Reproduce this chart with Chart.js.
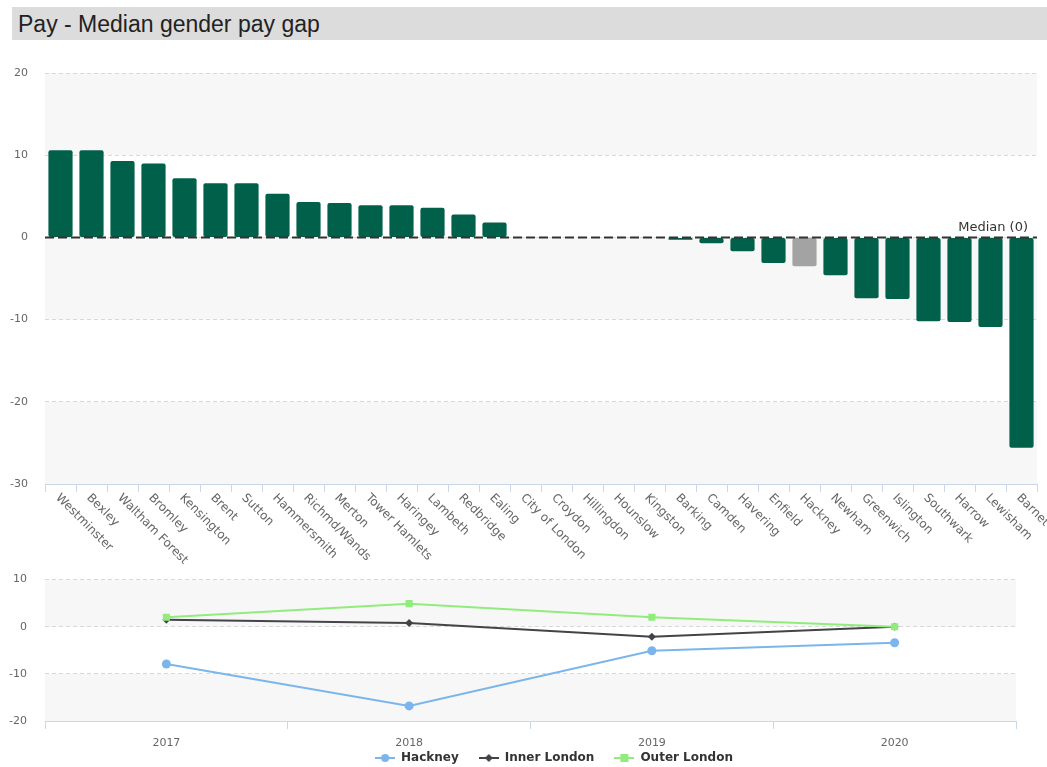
<!DOCTYPE html>
<html>
<head>
<meta charset="utf-8">
<title>Pay - Median gender pay gap</title>
<script src="https://cdn.jsdelivr.net/npm/chart.js@4.4.1/dist/chart.umd.min.js"></script>
<style>
  body { margin: 0; background: #fff; width: 1047px; height: 767px; position: relative; overflow: hidden; }
  #title {
    position: absolute; left: 12px; top: 7px; width: 1035px; height: 33px;
    background: #dcdcdc; color: #222; box-sizing: border-box; padding-left: 6px;
    font: 23px "Liberation Sans", Arial, sans-serif; line-height: 34px;
  }
  #gap-chart { position: absolute; left: 0; top: 45px; }
  #trend-chart { position: absolute; left: 0; top: 555px; }
</style>
</head>
<body>
<div id="title">Pay - Median gender pay gap</div>
<canvas id="gap-chart" width="1047" height="530"></canvas>
<canvas id="trend-chart" width="1047" height="234"></canvas>
<script>
// borough ranking, median gender pay gap (%)
const boroughs = ['Westminster', 'Bexley', 'Waltham Forest', 'Bromley', 'Kensington', 'Brent', 'Sutton',
  'Hammersmith', 'Richmd/Wands', 'Merton', 'Tower Hamlets', 'Haringey', 'Lambeth', 'Redbridge', 'Ealing',
  'City of London', 'Croydon', 'Hillingdon', 'Hounslow', 'Kingston', 'Barking', 'Camden', 'Havering',
  'Enfield', 'Hackney', 'Newham', 'Greenwich', 'Islington', 'Southwark', 'Harrow', 'Lewisham', 'Barnet'];
const payGap = [10.6, 10.6, 9.3, 9.0, 7.2, 6.6, 6.6, 5.3, 4.3, 4.2, 3.9, 3.9, 3.6, 2.8, 1.8,
  0, 0, 0, 0, 0, -0.3, -0.7, -1.7, -3.1, -3.5, -4.6, -7.4, -7.5, -10.2, -10.3, -10.9, -25.6];
const highlight = 'Hackney';
const medianValue = 0;
const gapTicks = [20, 10, 0, -10, -20, -30];

// trend over time
const years = ['2017', '2018', '2019', '2020'];
const hackneyGap = [-7.9, -16.8, -5.1, -3.4];
const innerLondon = [1.5, 0.8, -2.1, 0];
const outerLondon = [2.0, 4.9, 2.0, 0];
const trendTicks = [10, 0, -10, -20];

Chart.defaults.font.family = '"DejaVu Sans", sans-serif';
Chart.defaults.font.size = 11;
Chart.defaults.color = '#666';

// alternating grey bands, starting grey at the top of the plot
const bands = {
  id: 'bands',
  beforeDraw(chart) {
    const { ctx, chartArea, scales: { y } } = chart;
    const step = y.options.ticks.stepSize;
    ctx.save();
    ctx.fillStyle = '#f7f7f7';
    let k = 0;
    for (let v = y.max; v > y.min; v -= step, k++) {
      if (k % 2) continue;
      const top = y.getPixelForValue(v);
      const bottom = y.getPixelForValue(v - step);
      ctx.fillRect(chartArea.left, top, chartArea.right - chartArea.left, bottom - top);
    }
    ctx.restore();
  }
};

const medianLine = {
  id: 'medianLine',
  afterDatasetsDraw(chart) {
    const { ctx, chartArea, scales: { y } } = chart;
    const py = y.getPixelForValue(medianValue);
    ctx.save();
    ctx.strokeStyle = '#333';
    ctx.lineWidth = 2;
    ctx.setLineDash([9, 4]);
    ctx.beginPath();
    ctx.moveTo(chartArea.left, py);
    ctx.lineTo(chartArea.right, py);
    ctx.stroke();
    ctx.setLineDash([]);
    ctx.fillStyle = '#333';
    ctx.font = '13px "DejaVu Sans"';
    ctx.textAlign = 'right';
    ctx.textBaseline = 'bottom';
    ctx.fillText('Median (' + medianValue + ')', chartArea.right - 9, py - 3);
    ctx.restore();
  }
};

// category labels slanting down to the right
const slantLabels = {
  id: 'slantLabels',
  afterDraw(chart) {
    const { ctx, scales: { x } } = chart;
    ctx.save();
    ctx.fillStyle = '#666';
    ctx.font = '12px "DejaVu Sans"';
    ctx.textAlign = 'left';
    ctx.textBaseline = 'middle';
    boroughs.forEach((name, i) => {
      const px = x.getPixelForValue(i);
      ctx.save();
      ctx.translate(px - 3, x.top + 12);
      ctx.rotate(Math.PI / 4);
      ctx.fillText(name, 0, 0);
      ctx.restore();
    });
    ctx.restore();
  }
};

new Chart(document.getElementById('gap-chart'), {
  type: 'bar',
  data: {
    labels: boroughs,
    datasets: [{
      label: 'Median gender pay gap',
      data: payGap,
      backgroundColor: boroughs.map(b => b === highlight ? '#a3a3a3' : '#00604a'),
      borderRadius: 2,
      borderSkipped: false,
      barPercentage: 0.78,
      categoryPercentage: 1
    }]
  },
  options: {
    responsive: false,
    animation: false,
    layout: { padding: { top: 28, right: 10, left: 0, bottom: 0 } },
    plugins: { legend: { display: false }, tooltip: { enabled: false } },
    scales: {
      x: {
        ticks: { display: false },
        grid: { drawOnChartArea: false, drawTicks: true, tickLength: 8, color: '#ccd6eb', offset: true },
        border: { color: '#ccd6eb' },
        afterFit: s => { s.height = 91; }
      },
      y: {
        min: -30, max: 20,
        ticks: { stepSize: 10, padding: 17, color: '#666' },
        grid: { color: '#d8d8d8', drawTicks: false },
        border: { display: false, dash: [4, 3] },
        afterBuildTicks: s => { s.ticks = gapTicks.map(v => ({ value: v })); },
        afterFit: s => { s.width = 45; }
      }
    }
  },
  plugins: [bands, medianLine, slantLabels]
});

function legendIcon(color, style) {
  const c = document.createElement('canvas');
  c.width = 20; c.height = 12;
  const g = c.getContext('2d');
  g.strokeStyle = color; g.fillStyle = color; g.lineWidth = 2;
  g.beginPath(); g.moveTo(0, 6); g.lineTo(20, 6); g.stroke();
  g.beginPath();
  if (style === 'circle') g.arc(10, 6, 4, 0, Math.PI * 2);
  else if (style === 'rect') g.rect(6, 2, 8, 8);
  else { g.moveTo(10, 2); g.lineTo(14, 6); g.lineTo(10, 10); g.lineTo(6, 6); g.closePath(); }
  g.fill();
  return c;
}

const series = [
  { label: 'Hackney', data: hackneyGap, color: '#7cb5ec', style: 'circle', radius: 4.5, order: 2 },
  { label: 'Inner London', data: innerLondon, color: '#434348', style: 'rectRot', radius: 4, order: 1 },
  { label: 'Outer London', data: outerLondon, color: '#90ed7d', style: 'rect', radius: 5, order: 0 }
];

// nudge the legend row: centred under the plot and tucked just below the year labels
const legendShift = {
  id: 'legendShift',
  afterLayout(chart) {
    const lg = chart.legend;
    lg.left += 46; lg.right += 46;
    lg.top -= 15; lg.bottom -= 15;
  }
};

new Chart(document.getElementById('trend-chart'), {
  type: 'line',
  data: {
    labels: years,
    datasets: series.map(s => ({
      label: s.label,
      data: s.data,
      order: s.order,
      borderColor: s.color,
      backgroundColor: s.color,
      borderWidth: 2,
      pointStyle: s.style,
      pointRadius: s.radius,
      pointBorderWidth: 0,
      tension: 0
    }))
  },
  options: {
    responsive: false,
    animation: false,
    layout: { padding: { top: 9, right: 31, left: 0, bottom: 0 } },
    plugins: {
      tooltip: { enabled: false },
      legend: {
        position: 'bottom',
        labels: {
          usePointStyle: true,
          pointStyleWidth: 20,
          padding: 20,
          color: '#333',
          font: { size: 12, weight: 'bold' },
          generateLabels: chart => chart.data.datasets.map((ds, i) => ({
            text: ds.label,
            datasetIndex: i,
            pointStyle: legendIcon(series[i].color, series[i].style),
            fontColor: '#333',
            fillStyle: 'transparent',
            strokeStyle: 'transparent',
            lineWidth: 0,
            hidden: false
          }))
        }
      }
    },
    scales: {
      x: {
        offset: true,
        ticks: { padding: 8, color: '#666' },
        grid: { drawOnChartArea: false, drawTicks: true, tickLength: 8, color: '#ccd6eb', offset: true },
        border: { color: '#ccd6eb' },
        afterFit: s => { s.height = 26; }
      },
      y: {
        min: -20, max: 10,
        ticks: { stepSize: 10, padding: 18, color: '#666' },
        grid: { color: '#d8d8d8', drawTicks: false },
        border: { display: false, dash: [4, 3] },
        afterBuildTicks: s => { s.ticks = trendTicks.map(v => ({ value: v })); },
        afterFit: s => { s.width = 45; }
      }
    }
  },
  plugins: [bands, legendShift]
});
</script>
</body>
</html>
